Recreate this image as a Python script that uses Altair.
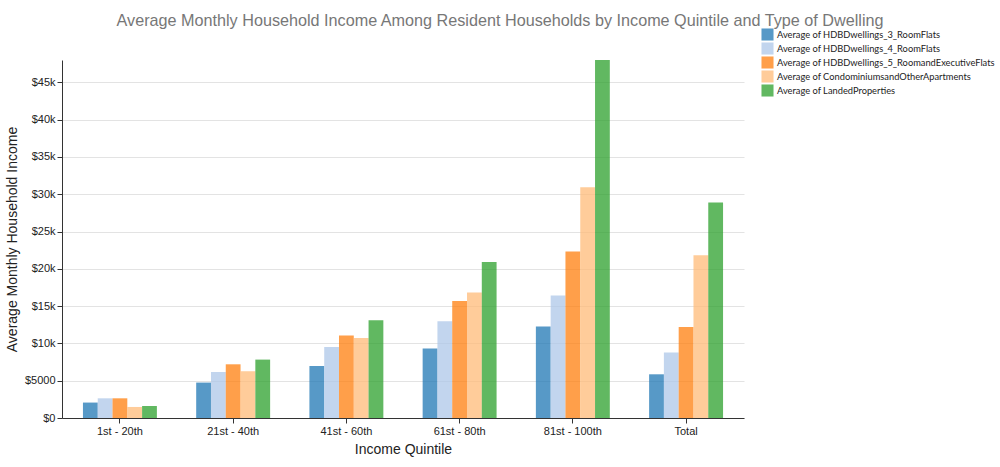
import altair as alt
import pandas as pd

quintiles = ["1st - 20th", "21st - 40th", "41st - 60th", "61st - 80th", "81st - 100th", "Total"]
series = [
    "Average of HDBDwellings_3_RoomFlats",
    "Average of HDBDwellings_4_RoomFlats",
    "Average of HDBDwellings_5_RoomandExecutiveFlats",
    "Average of CondominiumsandOtherApartments",
    "Average of LandedProperties",
]
colors = ["#1f77b4", "#aec7e8", "#ff7f0e", "#ffbb78", "#2ca02c"]

hdb3 = [2070, 4750, 6980, 9310, 12260, 5860]
hdb4 = [2640, 6170, 9530, 12970, 16420, 8770]
hdb5 = [2640, 7200, 11060, 15700, 22330, 12210]
condo = [1480, 6270, 10730, 16820, 30930, 21830]
landed = [1610, 7830, 13110, 20930, 48000, 28900]

rows = []
for name, vals in zip(series, [hdb3, hdb4, hdb5, condo, landed]):
    for q, v in zip(quintiles, vals):
        rows.append({"Quintile": q, "Series": name, "Income": v})
df = pd.DataFrame(rows)

chart = alt.Chart(df).mark_bar(opacity=0.75).encode(
    x=alt.X("Quintile:N", sort=quintiles,
            scale=alt.Scale(paddingInner=0.347, paddingOuter=0.185),
            axis=alt.Axis(title="Income Quintile", labelAngle=0, labelFont="Liberation Sans",
                          labelFontSize=11, labelColor="#222", titleFont="Liberation Sans",
                          titleFontSize=14, titleFontWeight="normal", titleColor="#222",
                          domainColor="#333", tickColor="#333", titlePadding=6, grid=False)),
    xOffset=alt.XOffset("Series:N", sort=series, scale=alt.Scale(paddingInner=0, paddingOuter=0)),
    y=alt.Y("Income:Q", scale=alt.Scale(domain=[0, 48000], nice=False),
            axis=alt.Axis(title="Average Monthly Household Income", values=list(range(0, 46000, 5000)),
                          labelExpr="datum.value < 10000 ? '$' + datum.value : '$' + (datum.value/1000) + 'k'",
                          labelFont="Liberation Sans", labelFontSize=11, labelColor="#222",
                          titleFont="Liberation Sans", titleFontSize=14, titleFontWeight="normal",
                          titleColor="#222", domainColor="#333", tickColor="#333",
                          gridColor="#e3e3e3", titlePadding=5)),
    color=alt.Color("Series:N", sort=series, scale=alt.Scale(domain=series, range=colors),
                    legend=alt.Legend(title=None, orient="none", legendX=699, legendY=-32,
                                      symbolType="square", symbolSize=145, symbolOpacity=0.75,
                                      labelFont="Lato", labelFontSize=9.3, labelColor="#222",
                                      labelLimit=0, labelOffset=3, padding=0,
                                      rowPadding=1, symbolStrokeWidth=0)),
).properties(
    width=682, height=358,
    title=alt.TitleParams("Average Monthly Household Income Among Resident Households by Income Quintile and Type of Dwelling",
                          font="Liberation Sans", fontSize=16.2, fontWeight="normal", color="#777",
                          anchor="middle", dx=97, offset=-1),
    autosize=alt.AutoSizeParams(type="none"),
    padding={"left": 62, "top": 60, "right": 256, "bottom": 49},
).configure_view(stroke=None)

chart.save("out.html", embed_options={"renderer": "svg", "actions": False})
